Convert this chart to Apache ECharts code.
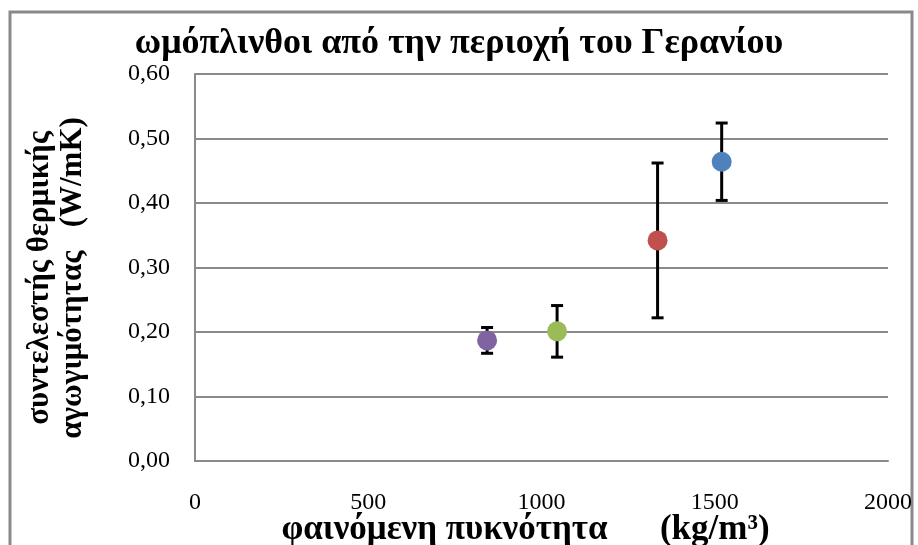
<!DOCTYPE html>
<html>
<head>
<meta charset="utf-8">
<script src="https://cdn.jsdelivr.net/npm/echarts@6/dist/echarts.min.js"></script>
<style>
    html, body { margin: 0; padding: 0; background: #fff; }
    #chart { width: 918px; height: 545px; }
</style>
</head>
<body>
<div id="chart"></div>
<script>
// density (kg/m3) and thermal conductivity (W/mK), with error bar limits
var density = [843, 1045, 1335, 1520];
var conductivity = [0.187, 0.201, 0.342, 0.464];
var errLow = [0.167, 0.161, 0.222, 0.404];
var errHigh = [0.207, 0.241, 0.462, 0.524];
var pointColors = ['#8064A2', '#9BBB59', '#C0504D', '#4F81BD'];

var serif = '"Liberation Serif", "Times New Roman", serif';

var chart = echarts.init(document.getElementById('chart'));

var scatterData = density.map(function (d, i) {
    return {
        value: [d, conductivity[i]],
        itemStyle: { color: pointColors[i] }
    };
});
var errData = density.map(function (d, i) {
    return [d, errLow[i], errHigh[i]];
});

var option = {
    animation: false,
    backgroundColor: '#fff',
    title: {
        text: 'ωμόπλινθοι από την περιοχή του Γερανίου',
        left: 'center',
        top: 21,
        textStyle: {
            fontFamily: serif,
            fontSize: 36,
            fontWeight: 'bold',
            color: '#000'
        }
    },
    graphic: [{
        type: 'rect',
        shape: { x: 10, y: 12, width: 902, height: 600 },
        style: { fill: 'none', stroke: '#8a8a8a', lineWidth: 3 }
    }],
    grid: {
        left: 195,
        right: 30,
        top: 74,
        bottom: 84,
        outerBoundsMode: 'none'
    },
    xAxis: {
        type: 'value',
        min: 0,
        max: 2000,
        interval: 500,
        name: 'φαινόμενη πυκνότητα      (kg/m³)',
        nameLocation: 'middle',
        nameGap: 51,
        nameMoveOverlap: false,
        nameTextStyle: {
            fontFamily: serif,
            fontSize: 35,
            fontWeight: 'bold',
            color: '#000',
            padding: [0, 32, 0, 0]
        },
        axisLine: { show: true, onZero: false, lineStyle: { color: '#8a8a8a', width: 2 } },
        axisTick: { show: false },
        splitLine: { show: false },
        axisLabel: {
            margin: 30,
            fontFamily: serif,
            fontSize: 24,
            color: '#000',
            formatter: function (v) {
                return String(v);
            }
        }
    },
    yAxis: {
        type: 'value',
        min: 0,
        max: 0.6,
        interval: 0.1,
        name: 'συντελεστής θερμικής\nαγωγιμότητας   (W/mK)',
        nameLocation: 'middle',
        nameRotate: 90,
        nameGap: 106,
        nameMoveOverlap: false,
        nameTextStyle: {
            fontFamily: serif,
            fontSize: 31,
            fontWeight: 'bold',
            color: '#000',
            lineHeight: 33,
            padding: [0, 21, 0, 0]
        },
        axisLine: { show: true, lineStyle: { color: '#8a8a8a', width: 2 } },
        axisTick: { show: false },
        splitLine: { show: true, lineStyle: { color: '#8a8a8a', width: 2 } },
        axisLabel: {
            margin: 25,
            fontFamily: serif,
            fontSize: 24,
            color: '#000',
            formatter: function (v) {
                return v.toFixed(2).replace('.', ',');
            }
        }
    },
    series: [
        {
            name: 'error',
            type: 'custom',
            z: 2,
            data: errData,
            renderItem: function (params, api) {
                var x = api.value(0);
                var top = api.coord([x, api.value(2)]);
                var bot = api.coord([x, api.value(1)]);
                var half = 6;
                var st = { stroke: '#000', lineWidth: 3 };
                return {
                    type: 'group',
                    children: [
                        { type: 'line', shape: { x1: top[0], y1: top[1], x2: bot[0], y2: bot[1] }, style: st },
                        { type: 'line', shape: { x1: top[0] - half, y1: top[1], x2: top[0] + half, y2: top[1] }, style: st },
                        { type: 'line', shape: { x1: bot[0] - half, y1: bot[1], x2: bot[0] + half, y2: bot[1] }, style: st }
                    ]
                };
            }
        },
        {
            name: 'points',
            type: 'scatter',
            z: 3,
            symbol: 'circle',
            symbolSize: 20,
            itemStyle: { opacity: 1 },
            data: scatterData
        }
    ]
};

chart.setOption(option);
window.addEventListener('resize', function () {
    chart.resize();
});
</script>
</body>
</html>
